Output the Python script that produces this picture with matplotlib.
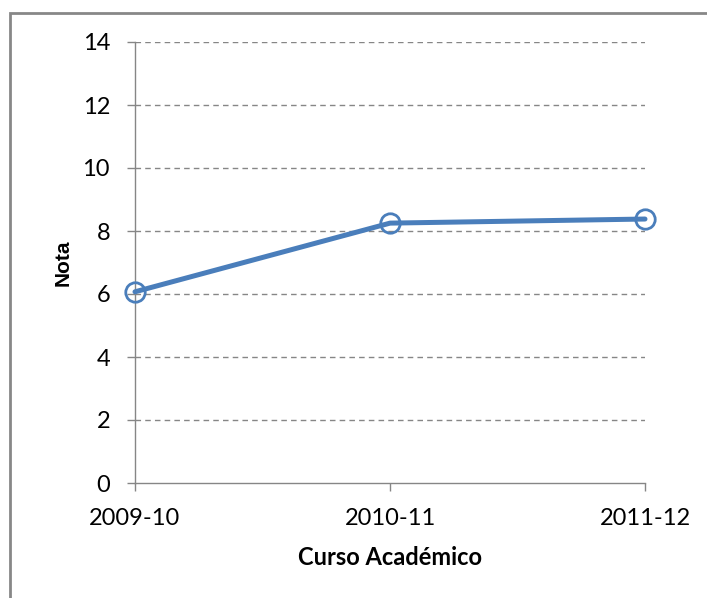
import matplotlib.pyplot as plt
from matplotlib.patches import Rectangle

# Data
cursos = ['2009-10', '2010-11', '2011-12']
notas = [6.07, 8.25, 8.38]
y_ticks = [0, 2, 4, 6, 8, 10, 12, 14]

plt.rcParams['font.family'] = ['Lato', 'DejaVu Sans']

fig = plt.figure(figsize=(7.07, 5.98), dpi=100)
ax = fig.add_axes([135 / 707, 115 / 598, 510 / 707, 441 / 598])

# outer chart border
fig.patches.append(Rectangle((10 / 707, -0.05), 1.0, 585 / 598 + 0.05,
                             transform=fig.transFigure, fill=False,
                             edgecolor='#878787', linewidth=2.0))

x = list(range(len(cursos)))
ax.plot(x, notas, color='#4A7EBB', linewidth=3.6, marker='o', markersize=14,
        markerfacecolor='none', markeredgecolor='#4A7EBB', markeredgewidth=2,
        solid_capstyle='round', clip_on=False, zorder=3)

ax.set_xlim(0, 2)
ax.set_ylim(0, 14)
ax.set_xticks(x)
ax.set_xticklabels(cursos)
ax.set_yticks(y_ticks)

for yt in y_ticks[1:]:
    ax.axhline(yt, color='#868686', linestyle=(0, (4, 3)), linewidth=1, zorder=1)

for side in ['top', 'right']:
    ax.spines[side].set_visible(False)
for side in ['left', 'bottom']:
    ax.spines[side].set_color('#868686')
    ax.spines[side].set_linewidth(1)

ax.tick_params(axis='both', colors='#868686', labelcolor='black', labelsize=17,
               length=6, width=1)
ax.tick_params(axis='y', pad=12)
ax.tick_params(axis='x', pad=12)

ax.set_ylabel('Nota', fontsize=15, fontweight='bold', family='Liberation Sans',
              labelpad=7)
ax.set_xlabel('Curso Académico', fontsize=17, fontweight='bold', labelpad=12)

fig.savefig('out.png', dpi=100)
